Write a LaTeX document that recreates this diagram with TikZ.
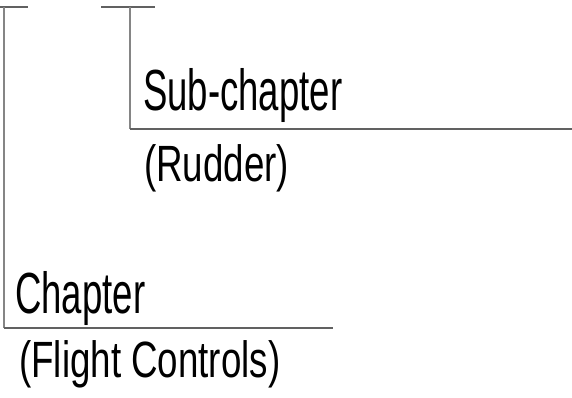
\documentclass[tikz,border=0pt]{standalone}
\usepackage{fontspec}
\newfontfamily\headfont[FakeStretch=0.63]{Liberation Sans}
\newfontfamily\notefont[FakeStretch=0.72]{Liberation Sans}
\begin{document}
\begin{tikzpicture}[x=1pt,y=-1pt,
  rule/.style={draw=black!62, line width=1.8pt},
  leg/.style={draw=black!48, line width=1.4pt},
  head/.style={anchor=base west, inner sep=0pt, font=\headfont\fontsize{58}{58}\selectfont, text=black},
  note/.style={anchor=base west, inner sep=0pt, font=\notefont\fontsize{51}{51}\selectfont, text=black}]
\useasboundingbox (0,0) rectangle (572,398);

% chapter bracket
\coordinate (c0) at (0,7);
\coordinate (c1) at (28,7);
\coordinate (ct) at (4,7);
\coordinate (cb) at (4,328);
\coordinate (ce) at (333,328);
\draw[rule] (c0) -- (c1);
\draw[leg] (ct) -- (cb);
\draw[rule] (cb) -- (ce);

% sub-chapter bracket
\coordinate (s0) at (101,7);
\coordinate (s1) at (155,7);
\coordinate (st) at (130,7);
\coordinate (sb) at (130,129);
\coordinate (se) at (572,129);
\draw[rule] (s0) -- (s1);
\draw[leg] (st) -- (sb);
\draw[rule] (sb) -- (se);

% labels
\node[head] (sub) at (143,111) {Sub-chapter};
\node[note] (rud) at (144,182) {(Rudder)};
\node[head] (chap) at (15,313) {Chapter};
\node[note] (flt) at (19,377) {(Flight Controls)};
\end{tikzpicture}
\end{document}
